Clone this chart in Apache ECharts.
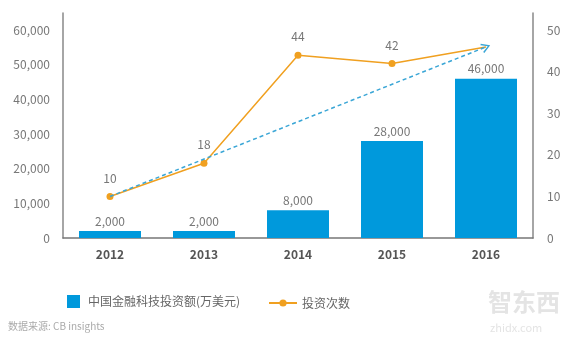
<!DOCTYPE html>
<html><head><meta charset="utf-8">
<script src="https://cdn.jsdelivr.net/npm/echarts@6/dist/echarts.min.js"></script>
<style>html,body{margin:0;padding:0;background:#fff}#c{width:580px;height:345px}</style>
</head><body><div id="c"></div>
<script>
var categories = ['2012','2013','2014','2015','2016'];
var investAmount = [2000, 2000, 8000, 28000, 46000];
var investCount = [10, 18, 44, 42, 46];
var trendStart = ['2012', 10];
var trendEnd = ['2016', 46];
var nameAmount = '中国金融科技投资额(万美元)';
var nameCount = '投资次数';
var sourceText = '数据来源: CB insights';

var chart = echarts.init(document.getElementById('c'), null, {renderer:'canvas'});
var font = '"Noto Sans CJK SC", "Noto Sans", sans-serif';
var lineData = investCount.map(function(v,i){
  return i === investCount.length-1 ? {value:v, symbol:'none'} : v;
});
chart.setOption({
  animation:false,
  textStyle:{fontFamily:font},
  grid:{left:63, right:47, top:13, bottom:107},
  legend:[{
    left:62, top:290, itemWidth:13, itemHeight:13, itemGap:10,
    textStyle:{color:'#666', fontSize:12, fontFamily:font, padding:[0,0,0,3]},
    data:[{name:nameAmount, icon:'rect'}]
  },{
    left:263, top:292, itemWidth:28, itemHeight:9,
    textStyle:{color:'#666', fontSize:12, fontFamily:font},
    data:[{name:nameCount}]
  }],
  xAxis:{
    type:'category', data:categories,
    axisLine:{lineStyle:{color:'#777', width:1.5}},
    axisTick:{show:false},
    axisLabel:{color:'#555', fontSize:12, fontWeight:'bold', margin:10, fontFamily:font}
  },
  yAxis:[{
    type:'value', min:0, max:65000, interval:10000,
    axisLine:{show:true, lineStyle:{color:'#888', width:1.5}},
    axisTick:{show:false}, splitLine:{show:false},
    axisLabel:{color:'#777', fontSize:12, margin:13, fontFamily:font,
      formatter:function(v){ return v % 10000 === 0 ? v.toLocaleString('en-US') : ''; }}
  },{
    type:'value', min:0, max:65/1.2, interval:10,
    axisLine:{show:true, lineStyle:{color:'#888', width:1.5}},
    axisTick:{show:false}, splitLine:{show:false},
    axisLabel:{color:'#777', fontSize:12, margin:14, fontFamily:font,
      formatter:function(v){ return Math.abs(v % 10) < 1e-9 ? String(v) : ''; }}
  }],
  series:[{
    name:nameAmount, type:'bar', data:investAmount, barWidth:62,
    itemStyle:{color:'#0099dc'},
    label:{show:true, position:'top', color:'#777', fontSize:12, distance:4,
      formatter:function(p){ return p.value.toLocaleString('en-US'); }}
  },{
    name:nameCount, type:'line', yAxisIndex:1, data:lineData,
    symbol:'circle', symbolSize:7,
    lineStyle:{color:'#f0a020', width:1.5}, itemStyle:{color:'#f0a020'},
    label:{show:true, position:'top', color:'#777', fontSize:12, distance:9},
    markLine:{
      silent:true,
      symbol:['none','path://M0,10 L5,0 L10,10 L8.6,10.9 L5,3.2 L1.4,10.9 Z'],
      symbolSize:[10,9], symbolOffset:[0,0],
      lineStyle:{color:'#3aa6d6', type:[4,3], width:1.5},
      label:{show:false},
      data:[[{coord:trendStart},{coord:trendEnd}]]
    }
  }],
  graphic:[
    {type:'text', left:8, top:321, style:{text:sourceText, fill:'#aaa', fontSize:10, fontFamily:font}},
    {type:'text', left:488, top:290, style:{text:'智东西', fill:'#e4e4e4', fontSize:24, fontWeight:'bold', fontFamily:font}},
    {type:'text', left:490, top:322, style:{text:'zhidx.com', fill:'#e4e4e4', fontSize:11, fontFamily:font}}
  ]
});
</script></body></html>
